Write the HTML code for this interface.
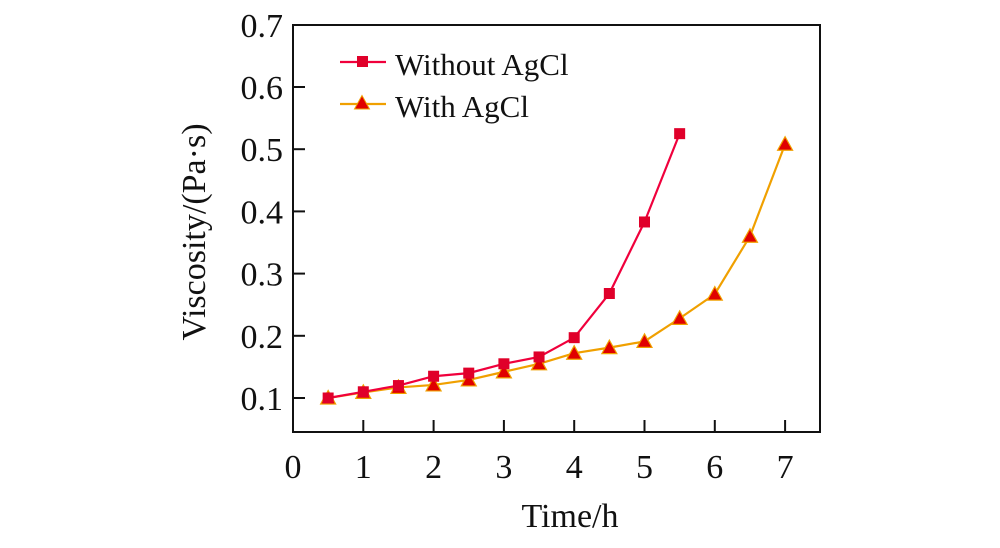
<!DOCTYPE html>
<html><head><meta charset="utf-8"><style>
body{margin:0;background:#fff}
svg text{font-family:"Liberation Serif",serif;fill:#111}
</style></head><body>
<svg width="1000" height="543" xmlns="http://www.w3.org/2000/svg">
<g id="plot"></g>
</svg>
<script>
const xTicks=[0,1,2,3,4,5,6,7];
const yTicks=[0.1,0.2,0.3,0.4,0.5,0.6,0.7];
const xWithout=[0.5,1,1.5,2,2.5,3,3.5,4,4.5,5,5.5];
const yWithout=[0.1,0.11,0.12,0.135,0.14,0.155,0.166,0.197,0.268,0.383,0.525];
const xWith=[0.5,1,1.5,2,2.5,3,3.5,4,4.5,5,5.5,6,6.5,7];
const yWith=[0.1,0.109,0.117,0.121,0.129,0.142,0.155,0.172,0.181,0.191,0.228,0.267,0.36,0.508];
const NS="http://www.w3.org/2000/svg";
const g=document.getElementById('plot');
const L=293,R=820,T=25,B=432;
const sx=v=>L+v*70.3;
const sy=v=>398-(v-0.1)*622;
function mk(tag,attrs,parent){const e=document.createElementNS(NS,tag);for(const k in attrs)e.setAttribute(k,attrs[k]);(parent||g).appendChild(e);return e;}
let box=mk('rect',{x:L,y:T,width:R-L,height:B-T,fill:'none',stroke:'#111','stroke-width':2});


xTicks.forEach(v=>{
  if(v>0){let t=mk('line',{x1:sx(v),x2:sx(v),y1:B,y2:B-12,stroke:'#111','stroke-width':2});
  
  }
  let l=mk('text',{x:sx(v),y:478,'text-anchor':'middle','font-size':34});l.textContent=v;
  
  
});
yTicks.forEach(v=>{
  if(v<0.65){let t=mk('line',{x1:L,x2:L+12,y1:sy(v),y2:sy(v),stroke:'#111','stroke-width':2});
  
  }
  let l=mk('text',{x:283,y:sy(v)+12,'text-anchor':'end','font-size':34});l.textContent=v.toFixed(1);
  
  
});
let xt=mk('text',{x:570,y:527,'text-anchor':'middle','font-size':34});xt.textContent='Time/h';


let yt=mk('text',{x:0,y:0,'text-anchor':'middle','font-size':34,transform:'translate(205,232) rotate(-90)'});yt.textContent='Viscosity/(Pa·s)';


function tri(cx,cy,s){return `${cx},${cy-s} ${cx-s},${cy+s*0.8} ${cx+s},${cy+s*0.8}`;}
function series(xs,ys,color,marker,name){
  let p=mk('polyline',{points:xs.map((x,i)=>sx(x)+','+sy(ys[i])).join(' '),fill:'none',stroke:color,'stroke-width':2.2});
  
  
  xs.forEach((x,i)=>{
    let m;
    if(marker==='sq')m=mk('rect',{x:sx(x)-5.5,y:sy(ys[i])-5.5,width:11,height:11,fill:'#e0002a'});
    else m=mk('polygon',{points:tri(sx(x),sy(ys[i]),7.5),fill:'#e00000',stroke:'#f0a000','stroke-width':1.2});
    
    
  });
}
series(xWith,yWith,'#f0a000','tri','with-agcl');
series(xWithout,yWithout,'#f0003c','sq','without-agcl');
let l1=mk('line',{x1:340,x2:386,y1:62,y2:62,stroke:'#f0003c','stroke-width':2.2});


let m1=mk('rect',{x:357,y:56,width:11,height:11,fill:'#e0002a'});


let t1=mk('text',{x:395,y:75,'font-size':31});t1.textContent='Without AgCl';


let l2=mk('line',{x1:340,x2:386,y1:104,y2:104,stroke:'#f0a000','stroke-width':2.2});


let m2=mk('polygon',{points:tri(362,103,7.5),fill:'#e00000',stroke:'#f0a000'});


let t2=mk('text',{x:395,y:117,'font-size':31});t2.textContent='With AgCl';


</script>
</body></html>
